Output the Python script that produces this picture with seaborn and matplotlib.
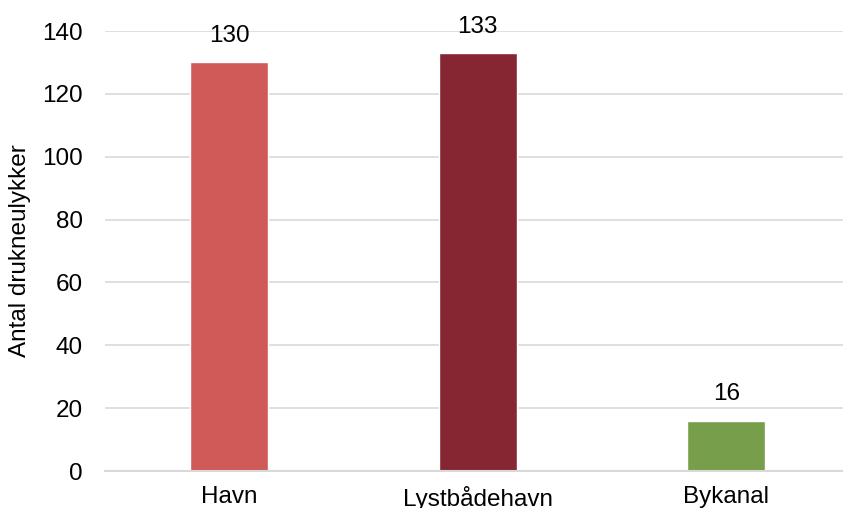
import matplotlib
matplotlib.use("Agg")
import matplotlib.pyplot as plt
import seaborn as sns
import pandas as pd

categories = ["Havn", "Lystbådehavn", "Bykanal"]
values = [130, 133, 16]
colors = ["#D05A57", "#862633", "#779E4A"]

sns.set_theme(style="white")
plt.rcParams["font.family"] = ["Liberation Sans", "DejaVu Sans"]

df = pd.DataFrame({"cat": categories, "val": values})

fig = plt.figure(figsize=(8.43, 5.08), dpi=100)
ax = fig.add_axes([105 / 843, 37 / 508, 745.5 / 843, 440 / 508])

sns.barplot(data=df, x="cat", y="val", hue="cat", palette=colors,
            width=0.314, legend=False, ax=ax, saturation=1)

FS = 17.5
ax.set_ylim(0, 140)
ax.set_yticks(range(0, 141, 20))
ax.yaxis.grid(True, color="#d9d9d9", linewidth=1.2)
ax.set_axisbelow(True)
for s in ["top", "right", "left"]:
    ax.spines[s].set_visible(False)
ax.spines["bottom"].set_color("#d9d9d9")
ax.spines["bottom"].set_linewidth(1.5)
ax.tick_params(axis="both", length=0, labelsize=FS, colors="black")
ax.tick_params(axis="x", pad=11)
ax.tick_params(axis="y", pad=16)
ax.set_xlabel("")
ax.set_ylabel("Antal drukneulykker", fontsize=FS, color="black", labelpad=8)

for container in ax.containers:
    ax.bar_label(container, labels=[f"{v:.0f}" for v in container.datavalues],
                 padding=11, fontsize=FS, color="black")

fig.savefig("out.png", dpi=100)
